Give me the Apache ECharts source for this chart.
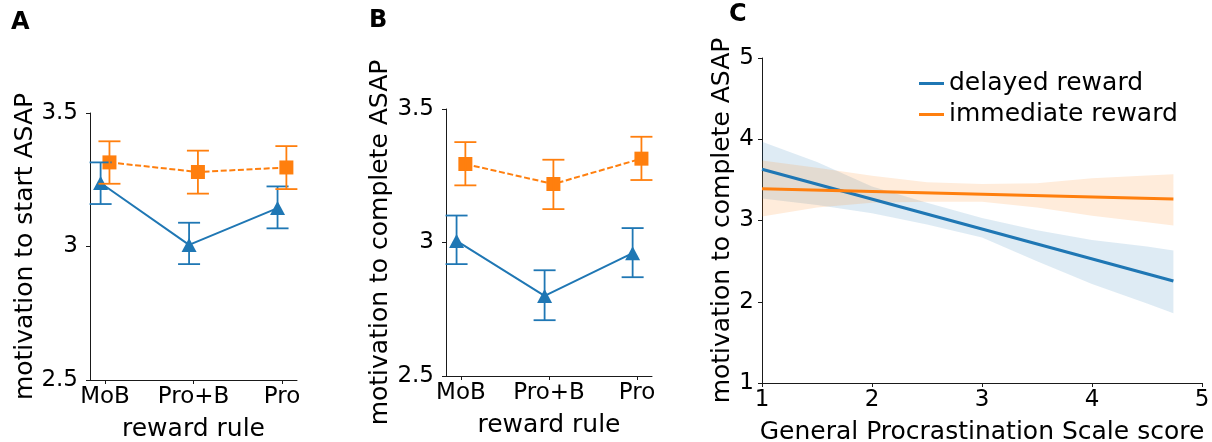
<!DOCTYPE html>
<html>
<head>
<meta charset="utf-8">
<script src="https://cdn.jsdelivr.net/npm/echarts@6/dist/echarts.min.js"></script>
<style>
  html, body { margin: 0; padding: 0; background: #fff; }
  #chart { width: 1212px; height: 442px; }
</style>
</head>
<body>
<div id="chart"></div>
<script>
// Reward rules on the x axis of panels A and B
const categories = ['MoB', 'Pro+B', 'Pro'];
const yTicksAB = [2.5, 3, 3.5];

// Panel A: motivation to start ASAP (mean and error-bar ends)
const startDelayedMean = [3.238, 3.006, 3.144];
const startDelayedLo = [3.159, 2.934, 3.068];
const startDelayedHi = [3.315, 3.089, 3.225];
const startImmediateMean = [3.315, 3.279, 3.296];
const startImmediateLo = [3.235, 3.198, 3.215];
const startImmediateHi = [3.394, 3.359, 3.376];

// Panel B: motivation to complete ASAP
const completeDelayedMean = [3.006, 2.800, 2.960];
const completeDelayedLo = [2.919, 2.709, 2.870];
const completeDelayedHi = [3.101, 2.896, 3.054];
const completeImmediateMean = [3.294, 3.219, 3.314];
const completeImmediateLo = [3.214, 3.125, 3.234];
const completeImmediateHi = [3.376, 3.310, 3.396];

// Panel C: regression fits against GPS score with confidence bands
const gpsScore = [1, 1.5, 2, 2.5, 3, 3.5, 4, 4.5, 4.74];
const delayedBandLo = [3.27, 3.19, 3.09, 2.95, 2.79, 2.50, 2.22, 1.98, 1.86];
const delayedBandHi = [3.97, 3.72, 3.42, 3.22, 3.03, 2.88, 2.76, 2.68, 2.63];
const immediateBandLo = [3.05, 3.16, 3.22, 3.23, 3.23, 3.16, 3.06, 2.98, 2.94];
const immediateBandHi = [3.74, 3.65, 3.55, 3.47, 3.45, 3.46, 3.52, 3.555, 3.57];
const fitRange = [1, 4.74];
const delayedFit = [3.63, 2.255];
const immediateFit = [3.39, 3.265];

const BLUE = '#1f77b4';
const ORANGE = '#ff7f0e';
const FONT = 'DejaVu Sans';
const AXIS_COLOR = '#1a1a1a';
const dodge = 0.05;

const chart = echarts.init(document.getElementById('chart'), null, { renderer: 'canvas' });

function errorBarItem(params, api) {
  const x = api.value(0);
  const top = api.coord([x, api.value(2)]);
  const bot = api.coord([x, api.value(1)]);
  const half = 11;
  const style = { stroke: api.visual('color'), lineWidth: 1.8, fill: null };
  return {
    type: 'group',
    children: [
      { type: 'line', shape: { x1: top[0], y1: top[1], x2: bot[0], y2: bot[1] }, style },
      { type: 'line', shape: { x1: top[0] - half, y1: top[1], x2: top[0] + half, y2: top[1] }, style },
      { type: 'line', shape: { x1: bot[0] - half, y1: bot[1], x2: bot[0] + half, y2: bot[1] }, style }
    ]
  };
}

function bandRenderer(xs, lo, hi, fill) {
  return function (params, api) {
    if (params.dataIndex !== 0) return null;
    const pts = [];
    for (let i = 0; i < xs.length; i++) pts.push(api.coord([xs[i], hi[i]]));
    for (let i = xs.length - 1; i >= 0; i--) pts.push(api.coord([xs[i], lo[i]]));
    return { type: 'polygon', shape: { points: pts }, style: { fill, stroke: null } };
  };
}

const axisLineStyle = { show: true, onZero: false, lineStyle: { color: AXIS_COLOR, width: 1 } };

function catAxis(gridIndex) {
  return {
    type: 'value', gridIndex, min: -0.17, max: 2.17,
    name: 'reward rule', nameLocation: 'middle', nameGap: 37,
    nameTextStyle: { fontFamily: FONT, fontSize: 25, color: '#000' },
    axisLine: axisLineStyle,
    axisTick: { show: true, length: 4, lineStyle: { color: AXIS_COLOR }, customValues: [0, 1, 2] },
    axisLabel: {
      fontFamily: FONT, fontSize: 23, color: '#000', margin: 6,
      customValues: [0, 1, 2],
      formatter: v => categories[Math.round(v)]
    },
    splitLine: { show: false }
  };
}

function abYAxis(gridIndex, title, gap) {
  return {
    type: 'value', gridIndex, min: yTicksAB[0], max: yTicksAB[yTicksAB.length - 1], interval: 0.5,
    name: title, nameLocation: 'middle', nameGap: gap, nameRotate: 90,
    nameTextStyle: { fontFamily: FONT, fontSize: 25, color: '#000' },
    axisLine: axisLineStyle,
    axisTick: { show: true, length: 4, lineStyle: { color: AXIS_COLOR } },
    axisLabel: { fontFamily: FONT, fontSize: 23, color: '#000', margin: 12, formatter: v => String(v) },
    splitLine: { show: false }
  };
}

function meanSeries(name, idx, means, color, symbol, dashed) {
  return {
    name, type: 'line', xAxisIndex: idx, yAxisIndex: idx,
    data: means.map((m, i) => [i + (color === BLUE ? -dodge : dodge), m]),
    symbol, symbolSize: symbol === 'triangle' ? [15, 14] : [14, 14],
    color, itemStyle: { color },
    lineStyle: { color, width: 2, type: dashed ? [6, 2.6] : 'solid' },
    z: 3, animation: false
  };
}

function errSeries(name, idx, lo, hi, color) {
  return {
    name, type: 'custom', xAxisIndex: idx, yAxisIndex: idx,
    data: lo.map((l, i) => [i + (color === BLUE ? -dodge : dodge), l, hi[i]]),
    encode: { x: 0, y: [1, 2] },
    itemStyle: { color },
    renderItem: errorBarItem, z: 4, animation: false
  };
}

const option = {
  animation: false,
  textStyle: { fontFamily: FONT },
  grid: [
    { left: 90, top: 113, width: 207, height: 267, outerBoundsMode: 'none', containLabel: false },
    { left: 446, top: 109, width: 206, height: 267, outerBoundsMode: 'none', containLabel: false },
    { left: 762, top: 58, width: 440, height: 325, outerBoundsMode: 'none', containLabel: false }
  ],
  xAxis: [
    catAxis(0),
    catAxis(1),
    {
      type: 'value', gridIndex: 2, min: 1, max: 5, interval: 1,
      name: 'General Procrastination Scale score', nameLocation: 'middle', nameGap: 37,
      nameTextStyle: { fontFamily: FONT, fontSize: 25, color: '#000' },
      axisLine: axisLineStyle,
      axisTick: { show: true, length: 4, lineStyle: { color: AXIS_COLOR } },
      axisLabel: { fontFamily: FONT, fontSize: 23, color: '#000', margin: 6 },
      splitLine: { show: false }
    }
  ],
  yAxis: [
    abYAxis(0, 'motivation to start ASAP', 51),
    abYAxis(1, 'motivation to complete ASAP', 53),
    {
      type: 'value', gridIndex: 2, min: 1, max: 5, interval: 1,
      name: 'motivation to complete ASAP', nameLocation: 'middle', nameGap: 25, nameRotate: 90,
      nameTextStyle: { fontFamily: FONT, fontSize: 25, color: '#000' },
      axisLine: axisLineStyle,
      axisTick: { show: true, length: 4, lineStyle: { color: AXIS_COLOR } },
      axisLabel: { fontFamily: FONT, fontSize: 23, color: '#000', margin: 8 },
      splitLine: { show: false }
    }
  ],
  legend: {
    orient: 'vertical', left: 914, top: 63,
    icon: 'rect', itemWidth: 25, itemHeight: 3, itemGap: 0,
    textStyle: { fontFamily: FONT, fontSize: 25, color: '#000', lineHeight: 31, padding: [0, 0, 0, 0] },
    data: ['delayed reward', 'immediate reward'],
    selectedMode: false
  },
  graphic: [
    { type: 'text', left: 11, top: 11, style: { text: 'A', font: 'bold 24px "DejaVu Sans"', fill: '#000' } },
    { type: 'text', left: 369, top: 9, style: { text: 'B', font: 'bold 24px "DejaVu Sans"', fill: '#000' } },
    { type: 'text', left: 729, top: 3, style: { text: 'C', font: 'bold 24px "DejaVu Sans"', fill: '#000' } }
  ],
  series: [
    // Panel A
    meanSeries('start, delayed', 0, startDelayedMean, BLUE, 'triangle', false),
    errSeries('start, delayed error', 0, startDelayedLo, startDelayedHi, BLUE),
    meanSeries('start, immediate', 0, startImmediateMean, ORANGE, 'rect', true),
    errSeries('start, immediate error', 0, startImmediateLo, startImmediateHi, ORANGE),
    // Panel B
    meanSeries('complete, delayed', 1, completeDelayedMean, BLUE, 'triangle', false),
    errSeries('complete, delayed error', 1, completeDelayedLo, completeDelayedHi, BLUE),
    meanSeries('complete, immediate', 1, completeImmediateMean, ORANGE, 'rect', true),
    errSeries('complete, immediate error', 1, completeImmediateLo, completeImmediateHi, ORANGE),
    // Panel C: confidence bands
    {
      name: 'delayed band', type: 'custom', xAxisIndex: 2, yAxisIndex: 2,
      data: gpsScore.map((x, i) => [x, delayedBandLo[i], delayedBandHi[i]]),
      encode: { x: 0, y: [1, 2] },
      renderItem: bandRenderer(gpsScore, delayedBandLo, delayedBandHi, 'rgba(31,119,180,0.15)'),
      z: 1, silent: true
    },
    {
      name: 'immediate band', type: 'custom', xAxisIndex: 2, yAxisIndex: 2,
      data: gpsScore.map((x, i) => [x, immediateBandLo[i], immediateBandHi[i]]),
      encode: { x: 0, y: [1, 2] },
      renderItem: bandRenderer(gpsScore, immediateBandLo, immediateBandHi, 'rgba(255,127,14,0.15)'),
      z: 1, silent: true
    },
    // Panel C: regression lines
    {
      name: 'delayed reward', type: 'line', xAxisIndex: 2, yAxisIndex: 2,
      data: fitRange.map((x, i) => [x, delayedFit[i]]),
      symbol: 'none', color: BLUE, itemStyle: { color: BLUE },
      lineStyle: { color: BLUE, width: 3 }, z: 2
    },
    {
      name: 'immediate reward', type: 'line', xAxisIndex: 2, yAxisIndex: 2,
      data: fitRange.map((x, i) => [x, immediateFit[i]]),
      symbol: 'none', color: ORANGE, itemStyle: { color: ORANGE },
      lineStyle: { color: ORANGE, width: 3 }, z: 2
    }
  ]
};

chart.setOption(option);
</script>
</body>
</html>
